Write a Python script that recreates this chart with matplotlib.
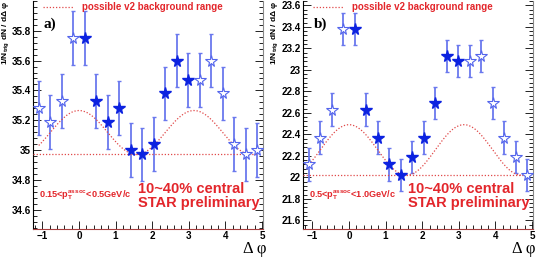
import numpy as np
import matplotlib
matplotlib.use('Agg')
import matplotlib.pyplot as plt
from matplotlib.ticker import MultipleLocator, AutoMinorLocator

# bin centres (delta phi)
dphi = [-1.10, -0.79, -0.47, -0.16, 0.16, 0.47, 0.79, 1.10, 1.41, 1.73,
        2.04, 2.36, 2.67, 2.98, 3.30, 3.61, 3.93, 4.24, 4.56, 4.87]
# 1 = measured (filled star), 0 = reflected (open star)
measured = [0, 0, 0, 0, 1, 1, 1, 1, 1, 1, 1, 1, 1, 1, 0, 0, 0, 0, 0, 0]

# panel a) 0.15<pT<0.5
vals_a = [35.28, 35.19, 35.33, 35.75, 35.75, 35.33, 35.19, 35.28, 35.00, 34.97,
          35.04, 35.38, 35.60, 35.47, 35.47, 35.60, 35.38, 35.04, 34.97, 35.00]
err_a = 0.18
bg_a = (34.97, 35.265)   # min, max of v2 background

# panel b) 0.5<pT<1.0
vals_b = [22.12, 22.37, 22.63, 23.38, 23.38, 22.63, 22.37, 22.12, 22.02, 22.19,
          22.37, 22.69, 23.13, 23.08, 23.08, 23.13, 22.69, 22.37, 22.19, 22.02]
err_b = 0.15
bg_b = (22.02, 22.49)

RED = '#e3262b'
BLUE = '#0c22e0'
EBLUE = '#6a78ee'

fig = plt.figure(figsize=(5.4, 2.6), dpi=100)


def panel(left, vals, err, bg, ylim, yticks, tag, ptlabel):
    ax = fig.add_axes([left, 31 / 260, 230 / 540, 228 / 260])
    x = np.array(dphi)
    y = np.array(vals)
    m = np.array(measured) == 1
    ax.errorbar(x, y, yerr=err, fmt='none', ecolor=EBLUE, elinewidth=1.3,
                capsize=1.5, capthick=1.0, zorder=2)
    ax.plot(x[m], y[m], '*', ms=8.5, color=BLUE, mec=BLUE, zorder=4)
    ax.plot(x[~m], y[~m], '*', ms=8.5, mfc='white', mec='#5465ec', mew=0.8, zorder=4)

    # v2 background
    lo, hi = bg
    xc = np.linspace(-1.10, 3 * np.pi / 2, 300)
    ax.plot(xc, (lo + hi) / 2 + (hi - lo) / 2 * np.cos(2 * xc), color='#e04848',
            ls=(0, (1, 1.5)), lw=0.9, zorder=3)
    ax.plot([-1.26, 4.87], [lo, lo], color='#e04848', ls=(0, (1, 1.5)), lw=0.9, zorder=3)

    ax.set_xlim(-0.4 * np.pi, 1.6 * np.pi)
    ax.set_ylim(*ylim)
    ax.xaxis.set_major_locator(MultipleLocator(1))
    ax.xaxis.set_minor_locator(AutoMinorLocator(5))
    ax.set_yticks(yticks)
    ax.set_yticklabels([('%g' % t) for t in yticks])
    ax.yaxis.set_minor_locator(AutoMinorLocator(5))
    ax.tick_params(which='both', direction='in', right=True, top=False,
                   labelsize=7.1, pad=1.5, width=0.6)
    ax.tick_params(which='major', length=6)
    ax.tick_params(which='minor', length=3)
    for lab in ax.get_xticklabels() + ax.get_yticklabels():
        lab.set_fontweight('bold')
        lab.set_family('Liberation Sans')
    ax.spines['top'].set_visible(False)
    ax.spines['right'].set_color('#888888')
    ax.spines['bottom'].set_color('#a84040')
    for s in ax.spines.values():
        s.set_linewidth(0.8)

    # legend
    ax.plot([0.043, 0.174], [0.972, 0.972], transform=ax.transAxes,
            color='#e04848', ls=(0, (1, 1.5)), lw=0.9)
    ax.text(0.215, 0.972, 'possible v2 background range', transform=ax.transAxes,
            color=RED, fontsize=7.0, fontweight='bold', va='center', ha='left',
            family='Liberation Sans')
    ax.text(0.045, 0.9, tag, transform=ax.transAxes, fontsize=11,
            fontweight='bold', family='Liberation Serif', va='center')
    ax.text(0.026, 0.15, ptlabel, transform=ax.transAxes, color=RED,
            fontsize=6.6, fontweight='bold', va='center', family='Liberation Sans')
    ax.text(0.455, 0.145, '10~40% central\nSTAR preliminary', transform=ax.transAxes,
            color=RED, fontsize=10.5, fontweight='bold', va='center', ha='left',
            linespacing=0.95, family='Liberation Sans')
    return ax


panel(33 / 540, vals_a, err_a, bg_a, (34.47, 36.0),
      [34.6, 34.8, 35.0, 35.2, 35.4, 35.6, 35.8], 'a)',
      r'0.15<p$_\mathregular{T}^\mathregular{assoc}$<0.5GeV/c')
panel(303 / 540, vals_b, err_b, bg_b, (21.52, 23.64),
      [21.6, 21.8, 22.0, 22.2, 22.4, 22.6, 22.8, 23.0, 23.2, 23.4, 23.6], 'b)',
      r'0.5<p$_\mathregular{T}^\mathregular{assoc}$<1.0GeV/c')

for x0 in (6, 275):
    fig.text(x0 / 540, 1 - 1 / 260, r'1/N$_\mathregular{trig}$ dN / dΔ φ',
             rotation=90, ha='center', va='top', fontsize=6.0, fontweight='bold',
             family='Liberation Sans')
    fig.text((x0 + 249) / 540, 1 - 249 / 260, 'Δ φ', ha='center',
             va='center', fontsize=12, family='Liberation Serif')

fig.savefig('out.png', dpi=100)
